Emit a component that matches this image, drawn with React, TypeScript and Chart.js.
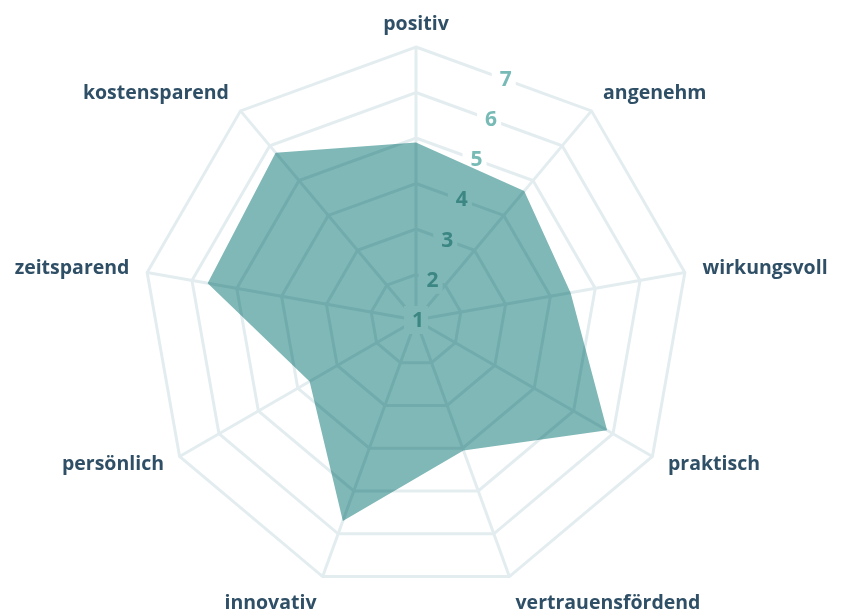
import React, { useEffect, useRef } from 'react';
import { Chart, registerables } from 'chart.js';

Chart.register(...registerables);

const categories = [
  'positiv',
  'angenehm',
  'wirkungsvoll',
  'praktisch',
  'vertrauensfördend',
  'innovativ',
  'persönlich',
  'zeitsparend',
  'kostensparend',
];
const values = [4.9, 4.7, 4.45, 5.85, 4.05, 5.7, 3.7, 5.65, 5.8];
const tickValues = [1, 2, 3, 4, 5, 6, 7];
const tickLabels = ['1', '2', '3', '4', '5', '6', '7'];

const FILL = '#7fb8b7';
const GRID = '#e3edf0';
const TICK_COLOR = '#77bab6';
const LABEL_COLOR = '#2f4f66';

const overlayPlugin = {
  id: 'overlay',
  beforeDatasetsDraw(chart: any) {
    const scale = chart.scales.r;
    const ctx = chart.ctx as CanvasRenderingContext2D;
    const n = categories.length;
    const a = scale.getIndexAngle(0) + Math.PI / n;
    const k = Math.cos(Math.PI / n);
    ctx.save();
    ctx.font = 'bold 21px "Open Sans"';
    ctx.textAlign = 'center';
    ctx.textBaseline = 'middle';
    tickValues.forEach((v, i) => {
      const d = scale.getDistanceFromCenterForValue(v) * k;
      const x = scale.xCenter + Math.sin(a) * d;
      const y = scale.yCenter - Math.cos(a) * d;
      const w = ctx.measureText(tickLabels[i]).width;
      ctx.fillStyle = '#ffffff';
      ctx.fillRect(x - w / 2 - 6, y - 14, w + 12, 28);
      ctx.fillStyle = TICK_COLOR;
      ctx.fillText(tickLabels[i], x + 2, y + 1);
    });
    ctx.font = 'bold 19.5px "Open Sans"';
    ctx.fillStyle = LABEL_COLOR;
    categories.forEach((c, i) => {
      const p = scale.getPointPosition(i, scale.drawingArea);
      const ang = scale.getIndexAngle(i);
      const s = Math.sin(ang);
      const co = Math.cos(ang);
      if (Math.abs(s) < 0.01) ctx.textAlign = 'center';
      else ctx.textAlign = s > 0 ? 'left' : 'right';
      const x = p.x + 18 * s;
      const y = co >= 0 ? p.y - 23 * co : p.y + 30 * co * co;
      ctx.fillText(c, x, y);
    });
    ctx.restore();
    ctx.save();
    ctx.globalCompositeOperation = 'multiply';
  },
  afterDatasetsDraw(chart: any) {
    chart.ctx.restore();
  },
};

export default function App() {
  const ref = useRef<HTMLCanvasElement>(null);
  useEffect(() => {
    const chart = new Chart(ref.current as HTMLCanvasElement, {
      type: 'radar',
      data: {
        labels: categories,
        datasets: [
          {
            data: values,
            backgroundColor: FILL,
            borderColor: 'rgba(0,0,0,0)',
            borderWidth: 1,
            pointRadius: 0,
            fill: 'start',
          },
        ],
      },
      options: {
        responsive: false,
        animation: false,
        layout: { padding: { top: 47, bottom: 22, left: 143, right: 152 } },
        plugins: { legend: { display: false }, tooltip: { enabled: false } },
        scales: {
          r: {
            min: 1,
            max: 7,
            ticks: { display: false, stepSize: 1 },
            grid: { color: GRID, lineWidth: 3 },
            angleLines: { color: GRID, lineWidth: 3 },
            pointLabels: { display: false },
          },
        },
      } as any,
      plugins: [overlayPlugin],
    });
    return () => chart.destroy();
  }, []);
  return (
    <div style={{ position: 'fixed', left: 0, top: 0, width: 841, height: 615, background: '#fff' }}>
      <canvas ref={ref} width={841} height={615} style={{ display: 'block' }} />
    </div>
  );
}
